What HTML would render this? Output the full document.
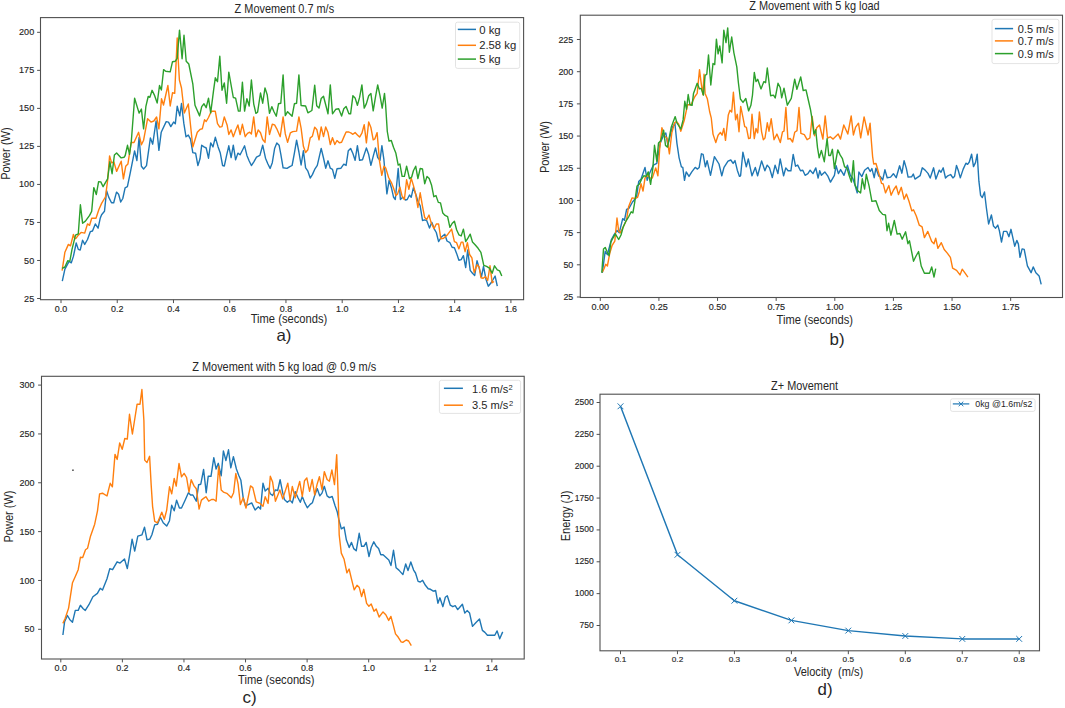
<!DOCTYPE html>
<html><head><meta charset="utf-8"><style>
html,body{margin:0;padding:0;background:#fff;}
svg{display:block;}
text{font-family:"Liberation Sans",sans-serif;}
</style></head><body>
<svg width="1065" height="708" viewBox="0 0 1065 708" fill="#262626">
<line x1="37.10" y1="298.50" x2="40.50" y2="298.50" stroke="#505050" stroke-width="1"/>
<text x="34.2" y="301.5" font-size="8.38" text-anchor="end" textLength="10.1" lengthAdjust="spacingAndGlyphs" stroke="#262626" stroke-width="0.14">25</text>
<line x1="37.10" y1="260.48" x2="40.50" y2="260.48" stroke="#505050" stroke-width="1"/>
<text x="34.2" y="263.5" font-size="8.38" text-anchor="end" textLength="10.1" lengthAdjust="spacingAndGlyphs" stroke="#262626" stroke-width="0.14">50</text>
<line x1="37.10" y1="222.45" x2="40.50" y2="222.45" stroke="#505050" stroke-width="1"/>
<text x="34.2" y="225.4" font-size="8.38" text-anchor="end" textLength="10.1" lengthAdjust="spacingAndGlyphs" stroke="#262626" stroke-width="0.14">75</text>
<line x1="37.10" y1="184.43" x2="40.50" y2="184.43" stroke="#505050" stroke-width="1"/>
<text x="34.2" y="187.4" font-size="8.38" text-anchor="end" textLength="15.1" lengthAdjust="spacingAndGlyphs" stroke="#262626" stroke-width="0.14">100</text>
<line x1="37.10" y1="146.40" x2="40.50" y2="146.40" stroke="#505050" stroke-width="1"/>
<text x="34.2" y="149.4" font-size="8.38" text-anchor="end" textLength="15.1" lengthAdjust="spacingAndGlyphs" stroke="#262626" stroke-width="0.14">125</text>
<line x1="37.10" y1="108.38" x2="40.50" y2="108.38" stroke="#505050" stroke-width="1"/>
<text x="34.2" y="111.4" font-size="8.38" text-anchor="end" textLength="15.1" lengthAdjust="spacingAndGlyphs" stroke="#262626" stroke-width="0.14">150</text>
<line x1="37.10" y1="70.35" x2="40.50" y2="70.35" stroke="#505050" stroke-width="1"/>
<text x="34.2" y="73.4" font-size="8.38" text-anchor="end" textLength="15.1" lengthAdjust="spacingAndGlyphs" stroke="#262626" stroke-width="0.14">175</text>
<line x1="37.10" y1="32.32" x2="40.50" y2="32.32" stroke="#505050" stroke-width="1"/>
<text x="34.2" y="35.3" font-size="8.38" text-anchor="end" textLength="15.1" lengthAdjust="spacingAndGlyphs" stroke="#262626" stroke-width="0.14">200</text>
<line x1="61.00" y1="299.70" x2="61.00" y2="303.10" stroke="#505050" stroke-width="1"/>
<text x="61.0" y="311.5" font-size="8.38" text-anchor="middle" textLength="12.4" lengthAdjust="spacingAndGlyphs" stroke="#262626" stroke-width="0.14">0.0</text>
<line x1="117.24" y1="299.70" x2="117.24" y2="303.10" stroke="#505050" stroke-width="1"/>
<text x="117.2" y="311.5" font-size="8.38" text-anchor="middle" textLength="12.4" lengthAdjust="spacingAndGlyphs" stroke="#262626" stroke-width="0.14">0.2</text>
<line x1="173.48" y1="299.70" x2="173.48" y2="303.10" stroke="#505050" stroke-width="1"/>
<text x="173.5" y="311.5" font-size="8.38" text-anchor="middle" textLength="12.4" lengthAdjust="spacingAndGlyphs" stroke="#262626" stroke-width="0.14">0.4</text>
<line x1="229.72" y1="299.70" x2="229.72" y2="303.10" stroke="#505050" stroke-width="1"/>
<text x="229.7" y="311.5" font-size="8.38" text-anchor="middle" textLength="12.4" lengthAdjust="spacingAndGlyphs" stroke="#262626" stroke-width="0.14">0.6</text>
<line x1="285.96" y1="299.70" x2="285.96" y2="303.10" stroke="#505050" stroke-width="1"/>
<text x="286.0" y="311.5" font-size="8.38" text-anchor="middle" textLength="12.4" lengthAdjust="spacingAndGlyphs" stroke="#262626" stroke-width="0.14">0.8</text>
<line x1="342.20" y1="299.70" x2="342.20" y2="303.10" stroke="#505050" stroke-width="1"/>
<text x="342.2" y="311.5" font-size="8.38" text-anchor="middle" textLength="12.4" lengthAdjust="spacingAndGlyphs" stroke="#262626" stroke-width="0.14">1.0</text>
<line x1="398.44" y1="299.70" x2="398.44" y2="303.10" stroke="#505050" stroke-width="1"/>
<text x="398.4" y="311.5" font-size="8.38" text-anchor="middle" textLength="12.4" lengthAdjust="spacingAndGlyphs" stroke="#262626" stroke-width="0.14">1.2</text>
<line x1="454.68" y1="299.70" x2="454.68" y2="303.10" stroke="#505050" stroke-width="1"/>
<text x="454.7" y="311.5" font-size="8.38" text-anchor="middle" textLength="12.4" lengthAdjust="spacingAndGlyphs" stroke="#262626" stroke-width="0.14">1.4</text>
<line x1="510.92" y1="299.70" x2="510.92" y2="303.10" stroke="#505050" stroke-width="1"/>
<text x="510.9" y="311.5" font-size="8.38" text-anchor="middle" textLength="12.4" lengthAdjust="spacingAndGlyphs" stroke="#262626" stroke-width="0.14">1.6</text>
<text x="234.6" y="12.8" font-size="11.90" textLength="99.5" lengthAdjust="spacingAndGlyphs">Z Movement 0.7 m/s</text>
<text x="250.7" y="322.7" font-size="12.20" textLength="76.5" lengthAdjust="spacingAndGlyphs">Time (seconds)</text>
<text x="276.4" y="341.3" font-size="16.50" textLength="15.0" lengthAdjust="spacingAndGlyphs">a)</text>
<text x="10.3" y="179.8" font-size="12.40" textLength="52.5" lengthAdjust="spacingAndGlyphs" transform="rotate(-90 10.3 179.8)">Power (W)</text>
<line x1="576.90" y1="297.00" x2="580.30" y2="297.00" stroke="#505050" stroke-width="1"/>
<text x="573.3" y="300.1" font-size="8.52" text-anchor="end" textLength="9.9" lengthAdjust="spacingAndGlyphs" stroke="#262626" stroke-width="0.14">25</text>
<line x1="576.90" y1="264.81" x2="580.30" y2="264.81" stroke="#505050" stroke-width="1"/>
<text x="573.3" y="267.9" font-size="8.52" text-anchor="end" textLength="9.9" lengthAdjust="spacingAndGlyphs" stroke="#262626" stroke-width="0.14">50</text>
<line x1="576.90" y1="232.62" x2="580.30" y2="232.62" stroke="#505050" stroke-width="1"/>
<text x="573.3" y="235.7" font-size="8.52" text-anchor="end" textLength="9.9" lengthAdjust="spacingAndGlyphs" stroke="#262626" stroke-width="0.14">75</text>
<line x1="576.90" y1="200.44" x2="580.30" y2="200.44" stroke="#505050" stroke-width="1"/>
<text x="573.3" y="203.5" font-size="8.52" text-anchor="end" textLength="14.9" lengthAdjust="spacingAndGlyphs" stroke="#262626" stroke-width="0.14">100</text>
<line x1="576.90" y1="168.25" x2="580.30" y2="168.25" stroke="#505050" stroke-width="1"/>
<text x="573.3" y="171.3" font-size="8.52" text-anchor="end" textLength="14.9" lengthAdjust="spacingAndGlyphs" stroke="#262626" stroke-width="0.14">125</text>
<line x1="576.90" y1="136.06" x2="580.30" y2="136.06" stroke="#505050" stroke-width="1"/>
<text x="573.3" y="139.1" font-size="8.52" text-anchor="end" textLength="14.9" lengthAdjust="spacingAndGlyphs" stroke="#262626" stroke-width="0.14">150</text>
<line x1="576.90" y1="103.88" x2="580.30" y2="103.88" stroke="#505050" stroke-width="1"/>
<text x="573.3" y="106.9" font-size="8.52" text-anchor="end" textLength="14.9" lengthAdjust="spacingAndGlyphs" stroke="#262626" stroke-width="0.14">175</text>
<line x1="576.90" y1="71.69" x2="580.30" y2="71.69" stroke="#505050" stroke-width="1"/>
<text x="573.3" y="74.7" font-size="8.52" text-anchor="end" textLength="14.9" lengthAdjust="spacingAndGlyphs" stroke="#262626" stroke-width="0.14">200</text>
<line x1="576.90" y1="39.50" x2="580.30" y2="39.50" stroke="#505050" stroke-width="1"/>
<text x="573.3" y="42.5" font-size="8.52" text-anchor="end" textLength="14.9" lengthAdjust="spacingAndGlyphs" stroke="#262626" stroke-width="0.14">225</text>
<line x1="600.30" y1="297.50" x2="600.30" y2="300.90" stroke="#505050" stroke-width="1"/>
<text x="600.3" y="309.7" font-size="8.66" text-anchor="middle" textLength="17.6" lengthAdjust="spacingAndGlyphs" stroke="#262626" stroke-width="0.14">0.00</text>
<line x1="658.92" y1="297.50" x2="658.92" y2="300.90" stroke="#505050" stroke-width="1"/>
<text x="658.9" y="309.7" font-size="8.66" text-anchor="middle" textLength="17.6" lengthAdjust="spacingAndGlyphs" stroke="#262626" stroke-width="0.14">0.25</text>
<line x1="717.55" y1="297.50" x2="717.55" y2="300.90" stroke="#505050" stroke-width="1"/>
<text x="717.5" y="309.7" font-size="8.66" text-anchor="middle" textLength="17.6" lengthAdjust="spacingAndGlyphs" stroke="#262626" stroke-width="0.14">0.50</text>
<line x1="776.17" y1="297.50" x2="776.17" y2="300.90" stroke="#505050" stroke-width="1"/>
<text x="776.2" y="309.7" font-size="8.66" text-anchor="middle" textLength="17.6" lengthAdjust="spacingAndGlyphs" stroke="#262626" stroke-width="0.14">0.75</text>
<line x1="834.80" y1="297.50" x2="834.80" y2="300.90" stroke="#505050" stroke-width="1"/>
<text x="834.8" y="309.7" font-size="8.66" text-anchor="middle" textLength="17.6" lengthAdjust="spacingAndGlyphs" stroke="#262626" stroke-width="0.14">1.00</text>
<line x1="893.42" y1="297.50" x2="893.42" y2="300.90" stroke="#505050" stroke-width="1"/>
<text x="893.4" y="309.7" font-size="8.66" text-anchor="middle" textLength="17.6" lengthAdjust="spacingAndGlyphs" stroke="#262626" stroke-width="0.14">1.25</text>
<line x1="952.05" y1="297.50" x2="952.05" y2="300.90" stroke="#505050" stroke-width="1"/>
<text x="952.0" y="309.7" font-size="8.66" text-anchor="middle" textLength="17.6" lengthAdjust="spacingAndGlyphs" stroke="#262626" stroke-width="0.14">1.50</text>
<line x1="1010.67" y1="297.50" x2="1010.67" y2="300.90" stroke="#505050" stroke-width="1"/>
<text x="1010.7" y="309.7" font-size="8.66" text-anchor="middle" textLength="17.6" lengthAdjust="spacingAndGlyphs" stroke="#262626" stroke-width="0.14">1.75</text>
<text x="749.2" y="9.8" font-size="11.90" textLength="130.5" lengthAdjust="spacingAndGlyphs">Z Movement with 5 kg load</text>
<text x="776.5" y="323.6" font-size="12.20" textLength="76.5" lengthAdjust="spacingAndGlyphs">Time (seconds)</text>
<text x="829.5" y="344.9" font-size="16.50" textLength="15.0" lengthAdjust="spacingAndGlyphs">b)</text>
<text x="548.8" y="173.0" font-size="12.40" textLength="52.0" lengthAdjust="spacingAndGlyphs" transform="rotate(-90 548.8 173.0)">Power (W)</text>
<line x1="38.10" y1="629.30" x2="41.50" y2="629.30" stroke="#505050" stroke-width="1"/>
<text x="34.5" y="632.3" font-size="8.52" text-anchor="end" textLength="9.9" lengthAdjust="spacingAndGlyphs" stroke="#262626" stroke-width="0.14">50</text>
<line x1="38.10" y1="580.46" x2="41.50" y2="580.46" stroke="#505050" stroke-width="1"/>
<text x="34.5" y="583.5" font-size="8.52" text-anchor="end" textLength="14.9" lengthAdjust="spacingAndGlyphs" stroke="#262626" stroke-width="0.14">100</text>
<line x1="38.10" y1="531.62" x2="41.50" y2="531.62" stroke="#505050" stroke-width="1"/>
<text x="34.5" y="534.7" font-size="8.52" text-anchor="end" textLength="14.9" lengthAdjust="spacingAndGlyphs" stroke="#262626" stroke-width="0.14">150</text>
<line x1="38.10" y1="482.78" x2="41.50" y2="482.78" stroke="#505050" stroke-width="1"/>
<text x="34.5" y="485.8" font-size="8.52" text-anchor="end" textLength="14.9" lengthAdjust="spacingAndGlyphs" stroke="#262626" stroke-width="0.14">200</text>
<line x1="38.10" y1="433.94" x2="41.50" y2="433.94" stroke="#505050" stroke-width="1"/>
<text x="34.5" y="437.0" font-size="8.52" text-anchor="end" textLength="14.9" lengthAdjust="spacingAndGlyphs" stroke="#262626" stroke-width="0.14">250</text>
<line x1="38.10" y1="385.10" x2="41.50" y2="385.10" stroke="#505050" stroke-width="1"/>
<text x="34.5" y="388.1" font-size="8.52" text-anchor="end" textLength="14.9" lengthAdjust="spacingAndGlyphs" stroke="#262626" stroke-width="0.14">300</text>
<line x1="60.80" y1="659.00" x2="60.80" y2="662.40" stroke="#505050" stroke-width="1"/>
<text x="60.8" y="670.7" font-size="8.66" text-anchor="middle" textLength="12.4" lengthAdjust="spacingAndGlyphs" stroke="#262626" stroke-width="0.14">0.0</text>
<line x1="122.38" y1="659.00" x2="122.38" y2="662.40" stroke="#505050" stroke-width="1"/>
<text x="122.4" y="670.7" font-size="8.66" text-anchor="middle" textLength="12.4" lengthAdjust="spacingAndGlyphs" stroke="#262626" stroke-width="0.14">0.2</text>
<line x1="183.96" y1="659.00" x2="183.96" y2="662.40" stroke="#505050" stroke-width="1"/>
<text x="184.0" y="670.7" font-size="8.66" text-anchor="middle" textLength="12.4" lengthAdjust="spacingAndGlyphs" stroke="#262626" stroke-width="0.14">0.4</text>
<line x1="245.54" y1="659.00" x2="245.54" y2="662.40" stroke="#505050" stroke-width="1"/>
<text x="245.5" y="670.7" font-size="8.66" text-anchor="middle" textLength="12.4" lengthAdjust="spacingAndGlyphs" stroke="#262626" stroke-width="0.14">0.6</text>
<line x1="307.12" y1="659.00" x2="307.12" y2="662.40" stroke="#505050" stroke-width="1"/>
<text x="307.1" y="670.7" font-size="8.66" text-anchor="middle" textLength="12.4" lengthAdjust="spacingAndGlyphs" stroke="#262626" stroke-width="0.14">0.8</text>
<line x1="368.70" y1="659.00" x2="368.70" y2="662.40" stroke="#505050" stroke-width="1"/>
<text x="368.7" y="670.7" font-size="8.66" text-anchor="middle" textLength="12.4" lengthAdjust="spacingAndGlyphs" stroke="#262626" stroke-width="0.14">1.0</text>
<line x1="430.28" y1="659.00" x2="430.28" y2="662.40" stroke="#505050" stroke-width="1"/>
<text x="430.3" y="670.7" font-size="8.66" text-anchor="middle" textLength="12.4" lengthAdjust="spacingAndGlyphs" stroke="#262626" stroke-width="0.14">1.2</text>
<line x1="491.86" y1="659.00" x2="491.86" y2="662.40" stroke="#505050" stroke-width="1"/>
<text x="491.9" y="670.7" font-size="8.66" text-anchor="middle" textLength="12.4" lengthAdjust="spacingAndGlyphs" stroke="#262626" stroke-width="0.14">1.4</text>
<text x="192.2" y="370.8" font-size="11.90" textLength="184.0" lengthAdjust="spacingAndGlyphs">Z Movement with 5 kg load @ 0.9 m/s</text>
<text x="238.1" y="683.9" font-size="12.20" textLength="76.5" lengthAdjust="spacingAndGlyphs">Time (seconds)</text>
<text x="242.5" y="703.0" font-size="16.50" textLength="14.2" lengthAdjust="spacingAndGlyphs">c)</text>
<text x="13.3" y="542.5" font-size="12.40" textLength="52.0" lengthAdjust="spacingAndGlyphs" transform="rotate(-90 13.3 542.5)">Power (W)</text>
<line x1="596.60" y1="625.50" x2="600.00" y2="625.50" stroke="#505050" stroke-width="1"/>
<text x="593.8" y="628.0" font-size="8.38" text-anchor="end" textLength="14.2" lengthAdjust="spacingAndGlyphs" stroke="#262626" stroke-width="0.14">750</text>
<line x1="596.60" y1="593.64" x2="600.00" y2="593.64" stroke="#505050" stroke-width="1"/>
<text x="593.8" y="596.1" font-size="8.38" text-anchor="end" textLength="19.0" lengthAdjust="spacingAndGlyphs" stroke="#262626" stroke-width="0.14">1000</text>
<line x1="596.60" y1="561.79" x2="600.00" y2="561.79" stroke="#505050" stroke-width="1"/>
<text x="593.8" y="564.3" font-size="8.38" text-anchor="end" textLength="19.0" lengthAdjust="spacingAndGlyphs" stroke="#262626" stroke-width="0.14">1250</text>
<line x1="596.60" y1="529.93" x2="600.00" y2="529.93" stroke="#505050" stroke-width="1"/>
<text x="593.8" y="532.4" font-size="8.38" text-anchor="end" textLength="19.0" lengthAdjust="spacingAndGlyphs" stroke="#262626" stroke-width="0.14">1500</text>
<line x1="596.60" y1="498.07" x2="600.00" y2="498.07" stroke="#505050" stroke-width="1"/>
<text x="593.8" y="500.6" font-size="8.38" text-anchor="end" textLength="19.0" lengthAdjust="spacingAndGlyphs" stroke="#262626" stroke-width="0.14">1750</text>
<line x1="596.60" y1="466.21" x2="600.00" y2="466.21" stroke="#505050" stroke-width="1"/>
<text x="593.8" y="468.7" font-size="8.38" text-anchor="end" textLength="19.0" lengthAdjust="spacingAndGlyphs" stroke="#262626" stroke-width="0.14">2000</text>
<line x1="596.60" y1="434.36" x2="600.00" y2="434.36" stroke="#505050" stroke-width="1"/>
<text x="593.8" y="436.9" font-size="8.38" text-anchor="end" textLength="19.0" lengthAdjust="spacingAndGlyphs" stroke="#262626" stroke-width="0.14">2250</text>
<line x1="596.60" y1="402.50" x2="600.00" y2="402.50" stroke="#505050" stroke-width="1"/>
<text x="593.8" y="405.0" font-size="8.38" text-anchor="end" textLength="19.0" lengthAdjust="spacingAndGlyphs" stroke="#262626" stroke-width="0.14">2500</text>
<line x1="620.50" y1="650.80" x2="620.50" y2="654.20" stroke="#505050" stroke-width="1"/>
<text x="620.5" y="661.6" font-size="7.82" text-anchor="middle" textLength="11.4" lengthAdjust="spacingAndGlyphs" stroke="#262626" stroke-width="0.14">0.1</text>
<line x1="677.46" y1="650.80" x2="677.46" y2="654.20" stroke="#505050" stroke-width="1"/>
<text x="677.5" y="661.6" font-size="7.82" text-anchor="middle" textLength="11.4" lengthAdjust="spacingAndGlyphs" stroke="#262626" stroke-width="0.14">0.2</text>
<line x1="734.42" y1="650.80" x2="734.42" y2="654.20" stroke="#505050" stroke-width="1"/>
<text x="734.4" y="661.6" font-size="7.82" text-anchor="middle" textLength="11.4" lengthAdjust="spacingAndGlyphs" stroke="#262626" stroke-width="0.14">0.3</text>
<line x1="791.38" y1="650.80" x2="791.38" y2="654.20" stroke="#505050" stroke-width="1"/>
<text x="791.4" y="661.6" font-size="7.82" text-anchor="middle" textLength="11.4" lengthAdjust="spacingAndGlyphs" stroke="#262626" stroke-width="0.14">0.4</text>
<line x1="848.34" y1="650.80" x2="848.34" y2="654.20" stroke="#505050" stroke-width="1"/>
<text x="848.3" y="661.6" font-size="7.82" text-anchor="middle" textLength="11.4" lengthAdjust="spacingAndGlyphs" stroke="#262626" stroke-width="0.14">0.5</text>
<line x1="905.30" y1="650.80" x2="905.30" y2="654.20" stroke="#505050" stroke-width="1"/>
<text x="905.3" y="661.6" font-size="7.82" text-anchor="middle" textLength="11.4" lengthAdjust="spacingAndGlyphs" stroke="#262626" stroke-width="0.14">0.6</text>
<line x1="962.26" y1="650.80" x2="962.26" y2="654.20" stroke="#505050" stroke-width="1"/>
<text x="962.3" y="661.6" font-size="7.82" text-anchor="middle" textLength="11.4" lengthAdjust="spacingAndGlyphs" stroke="#262626" stroke-width="0.14">0.7</text>
<line x1="1019.22" y1="650.80" x2="1019.22" y2="654.20" stroke="#505050" stroke-width="1"/>
<text x="1019.2" y="661.6" font-size="7.82" text-anchor="middle" textLength="11.4" lengthAdjust="spacingAndGlyphs" stroke="#262626" stroke-width="0.14">0.8</text>
<text x="771.1" y="389.5" font-size="11.90" textLength="67.0" lengthAdjust="spacingAndGlyphs">Z+ Movement</text>
<text x="793.9" y="675.5" font-size="12.20" textLength="69.3" lengthAdjust="spacingAndGlyphs">Velocity&#160; (m/s)</text>
<text x="817.5" y="694.6" font-size="16.50" textLength="15.0" lengthAdjust="spacingAndGlyphs">d)</text>
<text x="570.3" y="541.2" font-size="12.40" textLength="50.5" lengthAdjust="spacingAndGlyphs" transform="rotate(-90 570.3 541.2)">Energy (J)</text>
<polyline points="62.3,281.2 64.9,269.2 69.1,261.4 71.3,262.8 73.4,256.4 76.2,243.0 78.3,249.4 80.2,250.1 82.6,240.2 84.7,244.4 87.5,239.5 90.3,231.7 92.5,231.0 95.3,223.9 98.1,228.2 100.2,218.3 101.6,214.7 104.5,211.2 106.6,190.7 108.7,197.1 111.5,202.7 113.7,202.7 116.5,192.1 118.6,194.2 120.7,202.0 122.8,198.5 125.1,187.8 127.4,186.7 130.2,173.1 134.6,150.9 136.9,160.5 139.1,137.4 141.4,166.2 143.6,169.0 146.5,165.6 150.4,137.9 152.7,144.2 156.1,121.0 158.9,150.4 161.2,132.3 166.2,121.6 168.5,122.1 170.8,126.6 173.6,122.1 175.3,123.8 177.2,106.3 179.8,115.9 181.5,103.5 183.8,123.2 186.0,136.8 188.3,135.1 190.5,139.1 192.8,152.6 195.6,153.2 197.9,165.6 200.0,158.8 201.7,145.2 204.0,146.9 206.2,148.0 208.5,158.2 210.7,142.9 213.0,146.9 215.3,137.3 218.1,146.9 220.3,153.1 222.6,165.5 224.3,166.1 226.6,155.4 228.8,145.8 231.1,157.6 233.3,145.2 235.6,159.9 237.9,153.1 240.1,154.8 242.4,150.3 244.6,145.8 246.9,155.4 249.2,161.0 251.4,165.5 253.7,162.1 256.5,157.1 259.9,155.4 262.7,145.2 265.5,158.2 267.8,163.8 270.1,168.4 272.3,162.7 274.6,148.6 276.8,142.9 279.1,145.2 280.8,154.2 283.1,167.8 287.0,168.4 289.8,166.7 292.1,165.5 294.4,153.1 296.6,140.1 298.9,152.0 301.1,165.0 303.4,150.8 305.6,167.8 307.9,171.2 310.2,178.0 312.4,174.6 315.0,168.8 317.3,165.4 321.2,148.4 323.5,158.0 325.7,168.2 328.0,160.8 330.3,168.2 332.5,169.3 334.8,178.4 337.0,168.8 341.0,168.2 343.8,164.2 346.1,165.4 348.3,150.7 350.6,148.4 352.9,153.5 355.1,160.3 357.4,145.6 359.6,160.3 362.5,159.7 366.4,147.9 368.7,154.6 370.9,165.4 373.2,156.3 375.5,147.9 377.7,157.5 380.0,160.3 381.9,145.6 383.9,159.7 385.4,177.0 386.9,193.9 389.1,180.3 391.4,187.7 393.6,197.3 395.3,199.5 398.2,168.5 400.4,199.5 402.7,197.3 405.5,200.1 407.2,199.5 409.5,195.0 411.2,197.3 413.4,187.7 415.7,193.9 417.9,201.2 420.2,205.8 422.5,220.5 424.7,219.9 426.7,220.6 429.5,228.0 431.8,222.3 434.6,229.7 436.3,232.5 438.6,241.6 441.4,237.0 444.8,234.2 447.0,241.0 449.9,242.7 452.1,247.2 454.4,247.8 456.6,253.4 458.9,260.2 461.2,259.6 463.4,255.7 465.7,267.5 467.7,250.0 470.2,270.4 472.5,273.2 474.7,275.5 477.0,260.8 479.2,268.1 481.5,276.6 483.5,266.4 486.0,279.4 488.3,286.2 491.1,282.8 492.8,280.0 495.1,276.0 497.3,286.2" fill="none" stroke="#1f77b4" stroke-width="1.4" stroke-linejoin="round" stroke-linecap="butt"/>
<polyline points="62.1,270.6 64.9,252.2 68.4,244.4 70.5,245.8 73.4,234.5 74.8,238.8 76.2,238.1 78.3,235.2 81.1,232.4 84.7,233.1 87.5,223.9 89.6,225.3 91.7,218.3 96.0,218.3 98.8,209.8 101.6,203.4 104.5,198.5 105.5,196.8 107.6,180.5 109.6,155.9 111.6,162.9 113.8,161.8 116.6,171.4 121.2,161.2 123.4,178.8 125.7,166.3 127.9,164.1 131.2,142.5 134.0,142.5 138.6,132.3 141.4,144.7 143.6,140.2 147.6,118.7 151.0,122.1 153.8,121.0 156.6,117.0 158.9,128.9 161.5,98.7 163.5,105.0 167.9,85.5 170.2,106.0 172.5,92.8 174.7,93.4 177.2,38.0 178.1,57.8 179.4,80.0 181.5,88.0 184.3,113.0 188.3,104.0 192.8,147.0 197.3,132.3 200.0,129.4 202.3,128.8 204.5,119.8 206.2,121.5 208.5,117.5 211.3,111.3 215.3,111.3 217.5,123.7 219.8,127.1 222.0,126.6 224.3,116.9 227.1,124.9 228.8,134.5 231.1,129.9 233.3,136.7 235.6,130.5 237.9,124.9 240.1,134.5 242.4,124.3 245.2,136.7 247.5,133.3 249.7,132.2 251.4,133.9 253.7,116.9 255.9,136.7 258.2,129.9 260.5,132.8 262.7,139.5 265.0,142.4 267.2,116.9 269.5,134.5 272.3,124.3 274.6,124.9 276.8,128.8 280.2,136.7 283.1,116.9 285.3,133.9 287.6,142.4 290.4,132.8 292.7,131.6 296.6,131.1 298.9,116.9 301.1,128.2 303.4,146.3 305.6,152.5 307.9,149.7 310.2,137.9 312.4,136.2 314.7,127.1 316.9,129.8 319.0,139.9 321.2,126.9 323.5,136.6 325.7,126.9 328.0,132.6 330.3,144.5 332.5,137.7 334.8,144.5 337.0,140.5 339.3,142.8 341.6,142.2 343.8,137.1 346.1,132.0 348.9,132.0 351.2,133.2 352.9,134.3 355.1,132.6 357.4,134.9 359.6,137.1 361.9,133.2 364.2,124.7 366.4,142.8 368.7,121.9 370.9,127.5 373.2,139.9 374.9,138.8 377.1,132.6 379.4,160.3 381.8,175.3 384.0,166.2 385.7,167.9 388.6,177.5 391.4,182.6 393.6,188.2 395.9,195.6 397.6,193.9 399.9,187.1 402.1,196.2 404.4,199.5 406.6,179.8 408.9,189.4 411.2,178.1 413.4,185.4 415.7,194.5 417.9,207.5 420.2,192.8 422.5,206.3 424.7,217.6 426.7,219.5 429.0,215.0 431.2,222.9 434.0,228.6 436.3,224.0 438.6,224.0 440.8,238.7 443.6,238.2 447.0,235.3 451.6,229.1 454.4,241.6 456.6,242.7 458.9,248.9 461.2,242.1 462.9,242.1 465.1,251.7 467.4,242.7 469.6,254.5 471.9,257.9 474.2,272.6 477.0,264.7 479.2,267.0 480.9,277.7 483.2,278.3 485.5,276.6 487.7,280.5 490.0,265.8 492.2,282.8 494.0,281.5" fill="none" stroke="#ff7f0e" stroke-width="1.4" stroke-linejoin="round" stroke-linecap="butt"/>
<polyline points="62.1,268.4 64.9,267.0 67.7,260.7 69.8,261.4 72.0,249.4 75.5,235.2 78.3,233.8 80.4,204.8 82.6,223.2 85.4,221.1 89.6,215.4 91.7,211.2 93.8,187.6 96.3,194.6 98.6,181.6 100.8,181.9 103.1,186.7 107.6,178.8 109.9,161.8 112.1,173.7 114.4,155.0 116.6,153.0 121.2,157.9 124.0,157.3 125.2,155.5 127.5,145.3 129.5,154.3 131.3,141.5 134.6,98.3 139.1,113.1 141.4,109.1 143.6,128.9 145.9,106.3 148.2,96.5 149.9,97.3 152.1,90.3 154.4,95.1 157.2,103.0 159.5,85.5 161.4,90.0 163.6,69.6 165.7,71.3 170.2,71.9 172.5,61.7 175.3,61.2 177.2,58.3 179.5,30.1 182.1,58.7 184.0,35.2 186.2,61.2 188.8,64.0 192.8,83.8 195.0,105.2 199.6,115.9 201.7,106.6 204.0,103.8 206.2,107.7 208.5,98.1 210.7,112.8 213.6,90.2 215.3,77.8 217.5,81.7 219.8,56.3 222.0,90.2 224.3,82.9 226.6,103.2 228.8,72.1 233.3,97.5 235.6,98.1 238.4,111.1 240.1,111.1 242.4,82.3 244.6,111.1 246.9,98.7 249.2,106.0 251.4,80.0 253.7,103.8 255.9,113.4 257.6,112.2 260.5,93.0 262.7,103.2 265.0,87.9 267.2,94.7 269.5,113.4 271.8,106.6 274.0,111.7 276.3,116.2 278.5,103.8 280.8,103.2 283.1,74.9 285.3,115.6 287.6,111.7 292.1,116.2 294.4,103.8 296.6,103.2 298.9,74.9 301.1,105.5 305.6,106.0 307.9,112.8 311.9,110.5 314.7,85.1 316.7,105.8 319.0,108.1 321.2,98.5 323.5,96.2 325.7,104.7 328.0,113.8 330.3,84.9 332.5,113.8 335.9,109.2 338.7,108.7 341.6,116.0 343.8,108.7 346.1,106.4 348.9,113.8 350.6,113.8 352.9,95.7 355.1,97.9 357.4,105.3 359.6,97.4 361.9,84.9 364.2,108.1 366.4,103.6 368.7,95.7 370.9,93.4 373.2,110.9 375.5,96.8 377.7,84.9 380.0,95.7 382.2,108.1 384.5,93.4 385.6,104.7 387.3,131.5 389.0,141.1 391.3,140.5 393.5,147.3 395.8,152.9 398.2,165.1 399.9,164.0 402.1,176.4 404.4,176.4 406.6,166.2 409.5,178.6 411.7,177.0 413.4,170.7 415.7,166.2 417.9,178.6 420.2,168.5 422.5,169.0 424.7,183.7 427.0,176.4 429.2,178.6 431.5,184.9 433.8,196.7 436.0,195.6 438.3,202.4 440.5,202.9 442.8,213.1 445.1,215.4 447.6,216.7 449.9,227.4 452.1,223.5 454.4,221.2 456.6,229.7 458.9,234.8 461.2,235.9 463.4,229.1 465.7,241.6 467.9,238.2 470.2,234.2 472.5,242.1 475.3,245.0 478.1,248.3 480.9,252.3 483.8,265.3 486.6,266.4 489.4,268.1 492.2,273.2 494.5,265.8 497.3,269.8 499.6,270.9 501.8,276.0" fill="none" stroke="#2ca02c" stroke-width="1.4" stroke-linejoin="round" stroke-linecap="butt"/>
<polyline points="602.3,272.8 605.2,251.3 607.4,254.7 611.4,239.5 613.6,235.5 617.0,230.4 619.3,232.7 622.7,218.6 624.4,220.3 626.6,209.5 628.9,208.4 632.5,202.0 636.5,197.3 638.7,181.5 641.0,179.2 645.0,167.4 647.2,180.4 648.9,174.7 653.4,165.1 656.8,163.4 660.2,143.1 663.6,135.2 665.8,132.9 667.8,145.0 669.8,137.0 672.3,127.3 674.9,123.3 676.9,143.1 679.1,157.8 681.4,166.8 682.8,167.4 684.5,180.4 686.2,171.9 689.0,176.4 691.8,171.9 695.2,167.4 697.5,169.1 699.2,167.4 701.4,153.8 703.1,154.4 705.4,166.8 707.1,160.6 710.5,175.3 714.4,156.6 719.0,164.0 721.8,175.8 724.0,167.4 728.0,161.2 730.8,160.0 733.1,163.4 735.0,160.6 737.3,170.2 739.5,176.4 740.6,175.8 742.9,152.1 746.3,166.8 748.3,158.9 752.0,175.8 755.3,167.4 757.6,175.8 761.6,160.9 764.9,170.8 767.2,165.1 769.5,167.9 772.3,177.5 775.1,165.1 777.9,173.6 780.2,158.9 783.6,175.8 785.8,167.9 788.1,170.8 790.9,170.8 793.2,154.4 795.5,166.2 797.7,165.1 800.5,170.8 802.8,170.2 805.1,175.3 807.9,173.6 810.1,170.2 813.0,173.6 815.8,167.9 818.1,178.1 819.7,170.8 821.4,175.3 824.8,171.9 827.7,175.8 830.5,182.1 834.4,175.3 836.1,165.7 838.4,173.6 840.6,169.6 844.0,175.3 847.4,165.1 850.3,175.3 852.7,178.2 855.0,185.0 857.2,192.9 858.9,172.0 861.8,176.6 864.6,170.3 868.0,167.5 870.2,171.5 871.9,168.6 874.2,177.7 875.9,168.1 878.7,176.0 880.4,176.6 882.7,179.9 884.9,169.8 887.2,177.7 890.6,177.1 893.4,173.7 896.2,177.7 899.6,165.8 901.9,173.2 904.1,160.7 906.4,168.6 908.1,177.1 911.6,176.8 913.3,174.0 915.0,179.1 920.1,175.7 922.3,167.8 925.1,170.1 928.0,173.4 930.2,178.0 933.6,167.8 935.9,179.1 939.3,170.1 941.0,172.3 943.2,167.8 945.5,178.0 947.3,176.2 950.6,174.5 952.9,177.9 954.6,176.2 956.5,165.4 958.3,170.5 960.3,177.9 963.1,169.4 965.9,163.2 967.6,164.3 969.3,162.0 971.6,154.1 973.5,166.6 975.5,162.6 977.2,154.1 978.9,181.2 980.6,195.4 982.3,197.6 984.5,192.0 986.4,208.0 988.6,224.0 991.4,215.0 993.5,226.1 995.6,228.2 997.8,225.1 999.4,230.9 1001.5,242.0 1003.6,231.4 1006.8,231.4 1008.9,236.7 1011.0,229.3 1014.7,246.2 1016.8,240.4 1018.4,244.1 1020.0,257.4 1022.1,248.9 1024.2,249.4 1027.4,265.8 1031.1,272.7 1033.2,266.9 1035.9,272.7 1039.1,275.9 1041.2,284.4" fill="none" stroke="#1f77b4" stroke-width="1.4" stroke-linejoin="round" stroke-linecap="butt"/>
<polyline points="602.3,272.2 604.0,268.8 605.7,264.3 607.4,266.0 609.7,253.6 612.0,245.7 614.8,241.2 617.0,218.0 618.7,231.0 620.4,232.7 623.2,227.0 626.6,219.7 628.5,207.0 632.0,197.9 634.8,198.4 637.6,197.3 639.3,191.7 641.0,183.8 643.0,191.1 645.0,178.1 647.8,175.3 650.0,178.1 652.3,178.1 655.7,167.9 657.9,175.8 659.6,149.9 661.9,127.8 664.7,136.3 667.0,138.0 669.4,153.8 671.8,132.9 674.6,122.8 676.3,121.6 678.6,123.9 680.8,131.2 684.2,120.5 687.6,104.7 691.0,104.7 694.9,96.5 697.2,93.4 699.5,69.7 701.2,83.3 702.9,94.6 704.0,74.2 705.1,93.4 707.4,99.1 709.6,111.5 711.3,118.2 713.0,134.1 715.8,142.5 718.1,135.2 720.4,132.4 722.1,135.2 723.8,128.4 725.5,140.3 728.3,114.9 730.0,110.3 731.7,112.0 733.4,92.3 735.6,119.9 737.3,114.3 739.0,131.8 740.7,106.4 743.0,117.7 744.7,126.7 746.4,127.3 748.6,138.6 750.3,138.0 752.0,114.3 754.3,138.6 756.0,128.4 757.7,132.9 759.4,112.0 761.6,131.8 763.3,139.7 765.0,138.0 767.3,122.8 769.0,131.2 771.2,118.8 774.0,139.7 776.9,134.1 780.3,142.5 782.5,131.8 784.0,131.2 785.9,107.5 787.9,139.1 790.2,138.5 792.6,142.0 794.7,132.3 797.0,130.6 799.0,107.5 800.9,133.4 804.3,134.6 807.1,139.7 809.9,138.0 812.2,116.5 814.5,135.7 816.7,127.8 819.5,125.0 822.9,139.1 825.2,115.9 827.5,138.0 830.3,136.8 833.1,139.1 838.2,134.0 840.5,139.1 843.8,125.0 847.8,134.0 851.2,116.0 853.4,135.0 855.6,127.1 858.5,123.2 860.7,137.9 864.1,116.9 868.1,135.0 870.1,123.2 871.5,142.9 872.6,156.5 873.7,164.0 876.0,163.5 879.3,174.9 881.5,183.3 883.2,183.9 885.5,192.9 888.9,185.6 891.1,195.2 893.5,190.0 896.2,186.0 898.5,194.6 901.3,187.3 904.1,199.2 906.4,194.1 909.0,201.3 911.8,210.9 913.5,209.8 916.3,216.0 919.3,225.2 922.1,226.9 924.4,237.6 927.8,231.4 931.7,241.6 934.0,243.8 935.7,238.2 937.9,248.3 941.3,242.7 944.2,249.5 947.5,253.4 950.4,257.4 952.6,268.1 956.6,270.4 960.0,274.9 962.2,269.2 965.1,273.2 967.9,277.1" fill="none" stroke="#ff7f0e" stroke-width="1.4" stroke-linejoin="round" stroke-linecap="butt"/>
<polyline points="601.8,272.8 603.5,249.1 605.2,247.4 606.9,251.3 609.1,255.8 610.8,242.3 613.1,237.8 615.3,233.8 618.7,239.5 621.0,235.0 623.2,227.0 626.1,220.8 628.9,216.3 631.2,211.8 632.9,212.9 634.6,203.0 637.0,186.0 639.3,184.3 641.6,179.2 643.8,175.8 646.1,176.4 648.3,171.9 650.6,184.3 652.9,167.9 654.5,145.3 656.8,161.2 658.5,143.1 660.8,140.8 663.6,130.1 665.5,145.4 667.5,147.1 671.2,127.3 675.2,116.6 676.9,122.8 680.8,129.0 683.1,119.9 684.8,101.3 686.5,109.2 688.2,94.5 689.9,104.7 692.1,105.3 693.5,93.4 697.2,83.3 699.5,88.9 701.2,88.4 703.4,95.1 705.1,75.4 706.8,74.2 708.5,55.0 710.8,85.0 713.0,63.5 714.7,64.6 716.4,39.2 718.1,53.9 719.8,46.0 722.1,62.9 723.8,30.2 726.0,42.6 727.7,27.9 729.4,52.2 731.7,37.0 733.9,52.8 736.8,66.9 738.4,82.7 740.4,99.0 743.0,102.4 745.8,98.5 748.6,110.9 750.9,105.3 752.5,95.0 754.3,72.5 756.0,81.6 757.7,79.3 761.0,88.9 763.9,81.6 765.6,82.7 767.3,68.0 770.6,95.7 773.5,95.1 775.2,98.0 778.0,83.3 780.3,87.8 781.7,97.9 784.0,88.2 787.3,105.2 791.3,98.4 794.7,79.2 796.9,89.4 800.7,77.0 803.2,90.5 806.0,89.9 808.2,99.5 810.5,109.7 812.2,119.9 813.9,134.0 815.7,129.8 817.5,147.6 819.2,157.8 821.4,150.4 824.3,161.7 827.1,138.6 828.8,155.5 830.5,155.5 832.4,149.3 834.4,168.5 837.8,149.9 840.1,154.9 842.3,158.3 844.6,166.8 846.9,167.9 849.1,175.3 851.4,182.1 853.4,160.6 855.0,184.9 857.8,190.7 860.6,192.9 862.3,178.8 864.6,189.0 866.3,174.3 869.1,186.2 871.9,201.4 875.9,200.8 879.3,210.5 882.7,214.4 885.5,215.0 887.0,230.7 888.6,223.3 890.9,235.2 894.3,220.5 897.1,234.1 899.9,233.5 902.2,239.2 905.6,231.8 907.9,243.7 909.5,240.8 913.5,261.2 916.3,255.5 918.6,251.6 921.2,266.0 924.4,273.2 929.5,273.2 931.7,267.0 934.0,277.1 935.7,268.7" fill="none" stroke="#2ca02c" stroke-width="1.4" stroke-linejoin="round" stroke-linecap="butt"/>
<polyline points="62.9,635.0 64.6,621.7 67.4,615.5 69.7,619.4 72.5,622.2 75.3,610.4 78.2,610.4 80.4,605.3 83.2,608.7 85.3,610.4 88.9,604.7 92.9,596.8 97.4,593.4 100.2,588.3 102.5,590.0 107.0,578.7 109.8,568.6 112.6,569.7 117.1,561.8 120.0,563.1 124.5,559.0 127.3,568.6 130.0,553.0 132.1,539.1 134.7,551.1 137.8,536.2 142.0,534.8 144.5,527.1 147.0,539.8 149.8,539.1 151.9,534.8 154.7,524.9 157.5,524.2 160.4,517.2 163.2,522.8 166.7,526.1 169.5,520.7 171.7,505.2 174.2,510.8 176.6,500.2 179.4,508.0 181.5,508.0 185.1,500.2 188.4,492.7 190.6,495.0 192.9,495.0 196.3,501.2 198.6,484.8 200.8,484.2 203.6,469.5 206.2,492.7 208.2,476.3 211.0,476.3 213.8,457.7 216.1,469.0 218.3,463.3 221.2,475.8 223.4,450.9 225.9,460.5 228.5,449.8 230.8,467.9 233.4,456.6 236.4,469.0 238.7,475.2 240.9,480.3 243.2,497.8 245.5,505.7 248.3,504.6 251.7,502.9 255.1,510.0 258.4,506.8 260.5,509.1 263.0,483.1 265.2,491.0 268.1,488.2 270.3,493.8 272.6,495.5 275.4,489.9 277.7,490.5 280.1,479.7 282.7,492.7 284.4,499.5 287.3,502.3 290.1,500.1 292.3,502.9 295.2,491.6 298.0,497.8 300.3,502.3 302.3,496.5 304.5,502.1 307.3,507.8 310.2,504.4 312.4,502.7 314.7,495.4 317.2,488.6 319.8,495.9 322.0,493.1 324.3,486.3 327.1,495.9 329.4,497.6 332.2,496.5 335.0,505.5 337.3,512.0 339.0,520.3 341.3,528.8 344.1,527.1 346.4,540.1 349.2,547.5 351.5,542.4 353.7,548.6 356.2,550.8 359.2,533.3 361.6,546.3 363.9,546.3 366.2,542.4 369.0,556.5 371.2,547.5 373.8,541.8 376.3,546.3 378.6,548.6 380.8,554.8 383.1,554.8 388.8,559.9 391.0,565.5 393.5,550.3 396.1,567.8 398.9,570.1 402.9,574.6 405.7,564.0 408.0,570.6 410.8,562.0 413.6,570.1 415.5,573.0 418.1,581.4 420.3,582.0 422.6,580.3 425.4,585.3 428.2,588.7 430.5,589.3 433.3,591.2 435.6,590.4 437.9,603.2 439.9,597.8 442.9,606.7 445.3,597.3 447.3,595.8 450.3,605.2 452.8,606.7 455.2,605.7 457.7,609.6 460.2,606.7 462.4,604.2 464.8,613.1 467.1,610.6 469.6,613.1 472.5,626.4 476.0,622.5 479.5,619.0 482.4,630.4 484.9,632.4 487.4,635.3 490.3,635.3 494.8,635.3 497.1,630.9 499.7,638.8 502.7,631.9" fill="none" stroke="#1f77b4" stroke-width="1.4" stroke-linejoin="round" stroke-linecap="butt"/>
<polyline points="62.9,623.4 65.2,618.3 68.6,608.1 70.3,596.8 72.5,582.7 75.3,576.5 78.2,569.7 80.4,557.3 82.7,557.6 85.5,549.7 87.6,548.2 90.5,536.2 94.7,524.2 97.5,510.8 99.6,493.9 102.5,493.2 107.0,496.0 110.2,483.3 112.4,486.8 115.0,454.4 117.2,459.4 119.7,442.9 122.2,449.3 124.8,438.5 127.3,439.1 129.5,414.3 132.4,434.0 137.1,404.2 140.0,404.2 141.9,389.5 143.9,420.7 144.7,460.1 147.0,462.6 149.6,456.3 151.2,485.4 152.6,506.6 154.7,521.4 157.5,522.8 161.8,512.2 164.3,519.3 166.7,510.1 169.5,486.8 171.7,493.9 174.2,478.4 176.2,486.1 179.0,463.5 181.5,476.9 184.1,473.4 186.6,477.5 189.0,492.1 191.2,479.7 194.0,485.9 196.3,488.8 199.1,509.1 201.4,500.1 203.6,498.4 205.9,496.7 208.7,501.2 211.6,499.5 213.8,499.5 216.1,501.2 218.7,466.2 221.2,489.9 223.4,492.1 226.8,493.3 229.1,495.5 231.3,497.8 233.6,492.7 235.8,473.5 238.1,484.2 240.4,504.6 243.2,497.8 246.0,508.0 250.5,485.9 252.8,487.6 256.2,501.8 260.1,503.4 263.0,506.3 265.2,496.7 268.1,503.4 270.3,476.3 272.6,482.0 275.4,501.2 279.9,489.9 282.7,498.9 287.8,483.1 290.1,500.1 292.3,486.5 295.2,497.8 299.7,481.4 302.3,496.5 304.5,480.7 306.8,477.9 309.6,491.4 312.2,479.5 314.7,494.8 317.0,484.6 319.4,476.7 322.0,489.7 324.3,471.6 327.1,479.5 329.4,481.2 331.9,469.9 334.5,484.6 336.7,454.7 338.3,500.0 339.2,535.0 341.3,553.1 344.1,559.3 346.9,572.9 349.1,569.0 351.4,578.6 354.2,589.9 357.0,585.3 359.3,587.6 361.6,596.6 363.8,589.3 366.6,603.4 368.9,606.2 371.2,604.0 374.0,611.3 376.2,609.1 379.1,617.0 383.0,611.9 385.8,614.7 388.7,620.4 390.9,616.4 393.2,624.9 395.5,633.9 398.3,637.3 401.1,641.8 402.8,642.4 406.2,640.0 408.6,641.0 411.3,645.6" fill="none" stroke="#ff7f0e" stroke-width="1.4" stroke-linejoin="round" stroke-linecap="butt"/>
<polyline points="620.5,406.3 677.5,554.8 734.4,600.7 791.4,620.4 848.3,630.6 905.3,636.0 962.3,638.9 1019.2,638.9" fill="none" stroke="#1f77b4" stroke-width="1.45" stroke-linejoin="round" stroke-linecap="butt"/>
<path d="M617.6,403.4L623.4,409.2M617.6,409.2L623.4,403.4" stroke="#1f77b4" stroke-width="1.0"/>
<path d="M674.6,551.9L680.4,557.7M674.6,557.7L680.4,551.9" stroke="#1f77b4" stroke-width="1.0"/>
<path d="M731.5,597.8L737.3,603.6M731.5,603.6L737.3,597.8" stroke="#1f77b4" stroke-width="1.0"/>
<path d="M788.5,617.5L794.3,623.3M788.5,623.3L794.3,617.5" stroke="#1f77b4" stroke-width="1.0"/>
<path d="M845.4,627.7L851.2,633.5M845.4,633.5L851.2,627.7" stroke="#1f77b4" stroke-width="1.0"/>
<path d="M902.4,633.1L908.2,638.9M902.4,638.9L908.2,633.1" stroke="#1f77b4" stroke-width="1.0"/>
<path d="M959.4,636.0L965.2,641.8M959.4,641.8L965.2,636.0" stroke="#1f77b4" stroke-width="1.0"/>
<path d="M1016.3,636.0L1022.1,641.8M1016.3,641.8L1022.1,636.0" stroke="#1f77b4" stroke-width="1.0"/>
<rect x="455.50" y="22.20" width="64.20" height="46.20" stroke="#dcdcdc" stroke-width="0.8" fill="rgba(255,255,255,0.8)" rx="2"/>
<line x1="457.80" y1="29.40" x2="476.00" y2="29.40" stroke="#1f77b4" stroke-width="1.5"/>
<text x="479.2" y="33.5" font-size="11.60" textLength="21.5" lengthAdjust="spacingAndGlyphs">0 kg</text>
<line x1="457.80" y1="45.30" x2="476.00" y2="45.30" stroke="#ff7f0e" stroke-width="1.5"/>
<text x="479.2" y="49.3" font-size="11.60" textLength="37.0" lengthAdjust="spacingAndGlyphs">2.58 kg</text>
<line x1="457.80" y1="59.10" x2="476.00" y2="59.10" stroke="#2ca02c" stroke-width="1.5"/>
<text x="479.2" y="62.5" font-size="11.60" textLength="21.5" lengthAdjust="spacingAndGlyphs">5 kg</text>
<rect x="992.00" y="19.30" width="66.90" height="44.30" stroke="#dcdcdc" stroke-width="0.8" fill="rgba(255,255,255,0.8)" rx="2"/>
<line x1="994.90" y1="28.60" x2="1013.10" y2="28.60" stroke="#1f77b4" stroke-width="1.5"/>
<text x="1017.8" y="32.5" font-size="11.60" textLength="36.0" lengthAdjust="spacingAndGlyphs">0.5 m/s</text>
<line x1="994.90" y1="40.90" x2="1013.10" y2="40.90" stroke="#ff7f0e" stroke-width="1.5"/>
<text x="1017.8" y="44.7" font-size="11.60" textLength="36.0" lengthAdjust="spacingAndGlyphs">0.7 m/s</text>
<line x1="994.90" y1="53.60" x2="1013.10" y2="53.60" stroke="#2ca02c" stroke-width="1.5"/>
<text x="1017.8" y="57.5" font-size="11.60" textLength="36.0" lengthAdjust="spacingAndGlyphs">0.9 m/s</text>
<rect x="439.40" y="380.30" width="81.20" height="33.10" stroke="#dcdcdc" stroke-width="0.8" fill="rgba(255,255,255,0.8)" rx="2"/>
<line x1="443.90" y1="388.30" x2="462.90" y2="388.30" stroke="#1f77b4" stroke-width="1.5"/>
<text x="472.1" y="392.8" font-size="11.60" textLength="36.3" lengthAdjust="spacingAndGlyphs">1.6 m/s</text>
<line x1="443.90" y1="405.20" x2="462.90" y2="405.20" stroke="#ff7f0e" stroke-width="1.5"/>
<text x="472.1" y="409.3" font-size="11.60" textLength="36.3" lengthAdjust="spacingAndGlyphs">3.5 m/s</text>
<text x="508.5" y="389.6" font-size="7.40" textLength="4.2" lengthAdjust="spacingAndGlyphs">2</text>
<text x="508.9" y="406.1" font-size="7.40" textLength="4.2" lengthAdjust="spacingAndGlyphs">2</text>
<rect x="950.50" y="398.80" width="84.60" height="12.60" stroke="#dcdcdc" stroke-width="0.8" fill="white" rx="2"/>
<line x1="952.80" y1="403.90" x2="969.30" y2="403.90" stroke="#1f77b4" stroke-width="1.2"/>
<path d="M958.7,401.6L963.3,406.2M958.7,406.2L963.3,401.6" stroke="#1f77b4" stroke-width="1"/>
<text x="975.3" y="407.3" font-size="8.90" textLength="57.0" lengthAdjust="spacingAndGlyphs">0kg @1.6m/s2</text>
<rect x="72.2" y="469.5" width="1.5" height="1.4" fill="#333"/>
<rect x="40.50" y="17.60" width="483.10" height="282.10" stroke="#505050" stroke-width="1.1" fill="none" rx="0"/>
<rect x="580.30" y="15.20" width="482.20" height="282.30" stroke="#505050" stroke-width="1.1" fill="none" rx="0"/>
<rect x="41.50" y="376.30" width="482.70" height="282.70" stroke="#505050" stroke-width="1.1" fill="none" rx="0"/>
<rect x="600.00" y="394.20" width="439.50" height="256.60" stroke="#505050" stroke-width="1.1" fill="none" rx="0"/>
</svg>
</body></html>
